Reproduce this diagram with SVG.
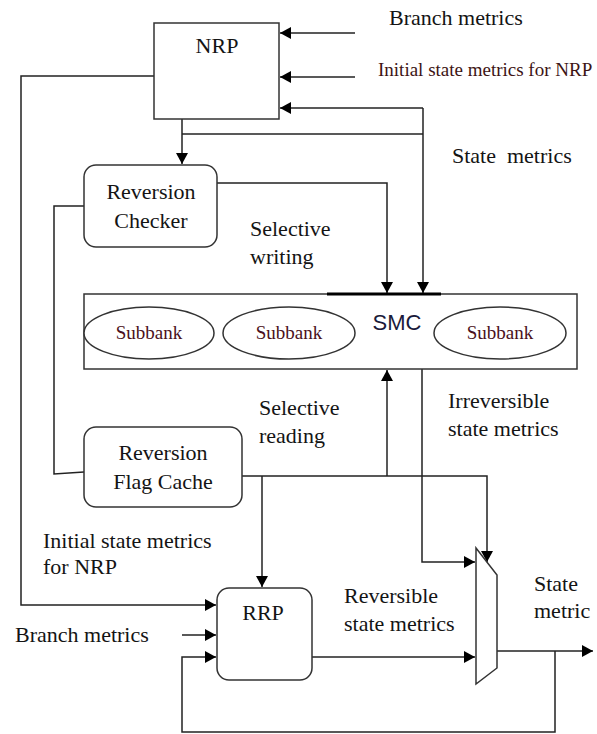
<svg xmlns="http://www.w3.org/2000/svg" width="597" height="734" viewBox="0 0 597 734">
<style>
  .box { fill: #fff; stroke: #333; stroke-width: 1.5; }
  .ln { fill: none; stroke: #222; stroke-width: 1.5; }
  .t { font-family: "Liberation Serif", "Times New Roman", serif; font-size: 22px; fill: #141414; }
  .tr { font-family: "Liberation Serif", "Times New Roman", serif; font-size: 19px; fill: #3d1414; }
  .sb { font-family: "Liberation Serif", "Times New Roman", serif; font-size: 19px; fill: #4a1020; }
  .ss { font-family: "Liberation Sans", Arial, sans-serif; font-size: 22px; fill: #1a1a3a; }
  .c { text-anchor: middle; }
</style>
<defs>
  <marker id="ah" markerUnits="userSpaceOnUse" markerWidth="12" markerHeight="12" refX="11" refY="6" orient="auto">
    <path d="M0,0 L11,6 L0,12 z" fill="#000"/>
  </marker>
</defs>

<g id="connectors">
  <path class="ln" d="M355,33 H280" marker-end="url(#ah)"/>
  <path class="ln" d="M355,77 H280" marker-end="url(#ah)"/>
  <path class="ln" d="M182,134 H423"/>
  <path class="ln" d="M423,108 V293" marker-end="url(#ah)"/>
  <path class="ln" d="M423,108 H280" marker-end="url(#ah)"/>
  <path class="ln" d="M182,119 V164" marker-end="url(#ah)"/>
  <path class="ln" d="M154,76 H21 V605 H216" marker-end="url(#ah)"/>
  <path class="ln" d="M217,183 H387 V293" marker-end="url(#ah)"/>
  <path class="ln" d="M84,206 H54 V474 L84,472"/>
  <path class="ln" d="M387,476 V370" marker-end="url(#ah)"/>
  <path class="ln" d="M242,476 H487 V562" marker-end="url(#ah)"/>
  <path class="ln" d="M262,476 V587" marker-end="url(#ah)"/>
  <path class="ln" d="M422,369 V562 H475" marker-end="url(#ah)"/>
  <path class="ln" d="M182,635 H216" marker-end="url(#ah)"/>
  <path class="ln" d="M555,651 V732 H182 V657 H216" marker-end="url(#ah)"/>
  <path class="ln" d="M312,657 H475" marker-end="url(#ah)"/>
  <path class="ln" d="M497,651 H593" marker-end="url(#ah)"/>
</g>

<g id="nrp">
  <rect class="box" x="154" y="23" width="125" height="96"/>
  <text class="t c" x="217" y="53">NRP</text>
</g>

<g id="reversion-checker">
  <rect class="box" x="84" y="165" width="133" height="82" rx="12"/>
  <text class="t c" x="151" y="199">Reversion</text>
  <text class="t c" x="151" y="228">Checker</text>
</g>

<g id="smc">
  <rect class="box" x="84" y="294" width="493" height="75"/>
  <path d="M327,294 H441" stroke="#000" stroke-width="3"/>
  <text class="ss c" x="397" y="330">SMC</text>
  <ellipse class="box" cx="149" cy="333" rx="65" ry="26"/>
  <text class="sb c" x="149" y="339">Subbank</text>
  <ellipse class="box" cx="289" cy="333" rx="66" ry="26"/>
  <text class="sb c" x="289" y="339">Subbank</text>
  <ellipse class="box" cx="500" cy="333" rx="66" ry="26"/>
  <text class="sb c" x="500" y="339">Subbank</text>
</g>

<g id="reversion-flag-cache">
  <rect class="box" x="84" y="427" width="158" height="80" rx="12"/>
  <text class="t c" x="163" y="460">Reversion</text>
  <text class="t c" x="163" y="489">Flag Cache</text>
</g>

<g id="rrp">
  <rect class="box" x="217" y="588" width="95" height="92" rx="12"/>
  <text class="t c" x="263" y="620">RRP</text>
</g>

<g id="mux">
  <polygon class="box" points="476,548 497,575 497,668 476,684"/>
</g>

<g id="labels">
  <text class="t" x="389" y="25">Branch metrics</text>
  <text class="tr" x="378" y="76">Initial state metrics for NRP</text>
  <text class="t" x="452" y="163" xml:space="preserve">State  metrics</text>
  <text class="t" x="250" y="236">Selective</text>
  <text class="t" x="250" y="264">writing</text>
  <text class="t" x="259" y="415">Selective</text>
  <text class="t" x="259" y="443">reading</text>
  <text class="t" x="448" y="408">Irreversible</text>
  <text class="t" x="448" y="436">state metrics</text>
  <text class="t" x="43" y="548">Initial state metrics</text>
  <text class="t" x="43" y="574">for NRP</text>
  <text class="t" x="15" y="642">Branch metrics</text>
  <text class="t" x="344" y="603">Reversible</text>
  <text class="t" x="344" y="631">state metrics</text>
  <text class="t" x="534" y="591">State</text>
  <text class="t" x="534" y="618">metric</text>
</g>
</svg>
